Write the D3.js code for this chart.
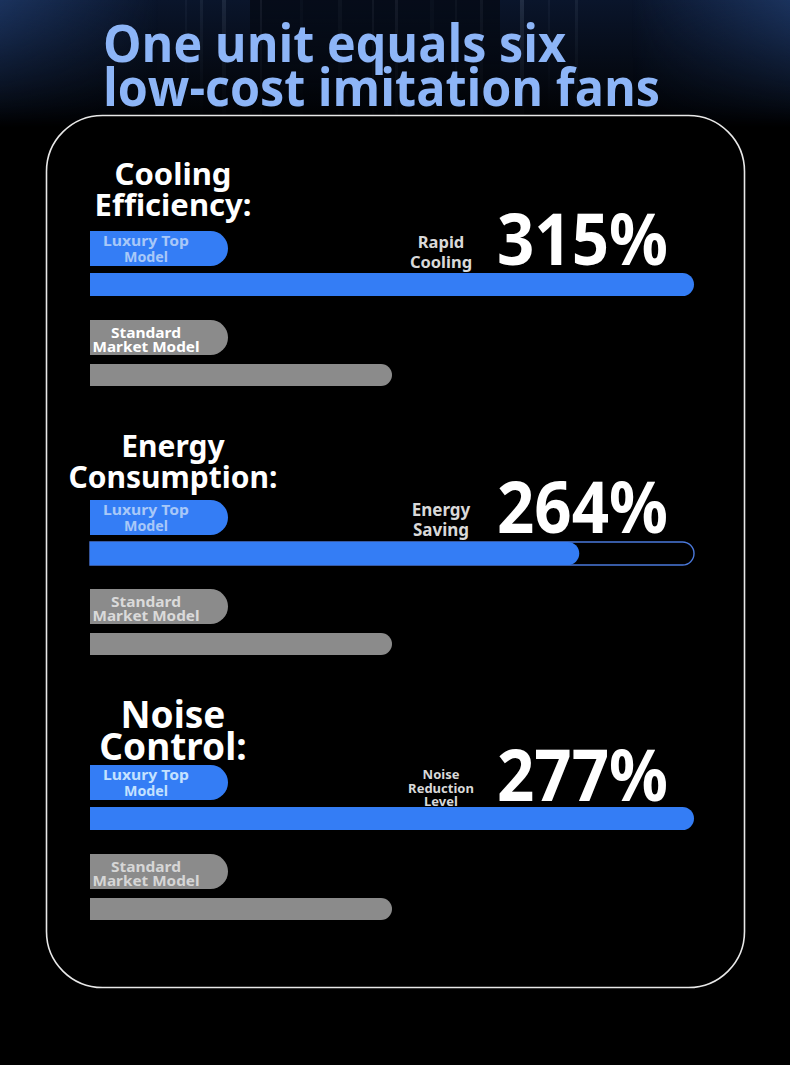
<!DOCTYPE html>
<html>
<head>
<meta charset="utf-8">
<script src="https://cdn.jsdelivr.net/npm/d3@7"></script>
<style>
html,body{margin:0;padding:0;background:#000;}
svg{display:block;}
</style>
</head>
<body>
<div id="chart"></div>
<script>
// ---- data ----
const titleLines = ["One unit equals six", "low-cost imitation fans"];
const categories = [["Cooling", "Efficiency:"], ["Energy", "Consumption:"], ["Noise", "Control:"]];
const percentLabels = ["315%", "264%", "277%"];
const percentValues = [315, 264, 277];
const benefitLabels = [["Rapid", "Cooling"], ["Energy", "Saving"], ["Noise", "Reduction", "Level"]];
const seriesNames = [["Luxury Top", "Model"], ["Standard", "Market Model"]];
const luxuryLevel = [1.0, 0.81, 1.0];     // displayed fill of luxury bar (share of track)
const luxuryTrack = [1.0, 1.0, 1.0];
const standardLevel = [0.5, 0.5, 0.5];   // displayed fill of standard bar

// ---- layout ----
const W = 790, H = 1065;
const svg = d3.select("#chart").append("svg").attr("width", W).attr("height", H);
const defs = svg.append("defs");

const bg = defs.append("linearGradient").attr("id", "bg").attr("x1", 0).attr("y1", 0).attr("x2", 0).attr("y2", 1);
bg.append("stop").attr("offset", "0").attr("stop-color", "#0a152b");
bg.append("stop").attr("offset", "0.55").attr("stop-color", "#050a14");
bg.append("stop").attr("offset", "1").attr("stop-color", "#000");
const side = defs.append("linearGradient").attr("id", "side").attr("x1", 0).attr("y1", 0).attr("x2", 1).attr("y2", 0);
side.append("stop").attr("offset", "0").attr("stop-color", "#1e3866").attr("stop-opacity", 0.85);
side.append("stop").attr("offset", "0.2").attr("stop-color", "#1e3866").attr("stop-opacity", 0);
side.append("stop").attr("offset", "0.8").attr("stop-color", "#1e3866").attr("stop-opacity", 0);
side.append("stop").attr("offset", "1").attr("stop-color", "#1e3866").attr("stop-opacity", 0.85);
const fade = defs.append("linearGradient").attr("id", "fade").attr("x1", 0).attr("y1", 0).attr("x2", 0).attr("y2", 1);
fade.append("stop").attr("offset", "0").attr("stop-color", "#fff").attr("stop-opacity", 1);
fade.append("stop").attr("offset", "0.45").attr("stop-color", "#fff").attr("stop-opacity", 0.5);
fade.append("stop").attr("offset", "1").attr("stop-color", "#fff").attr("stop-opacity", 0);
defs.append("mask").attr("id", "fadeMask").append("rect").attr("x", 0).attr("y", 0).attr("width", W).attr("height", 128).attr("fill", "url(#fade)");

svg.append("rect").attr("width", W).attr("height", H).attr("fill", "#000");
svg.append("rect").attr("width", W).attr("height", 128).attr("fill", "url(#bg)");
const topg = svg.append("g").attr("mask", "url(#fadeMask)");
topg.append("rect").attr("width", W).attr("height", 128).attr("fill", "url(#side)");
// faint vertical streaks (background texture)
const streakX = [185, 200, 222, 260, 300, 338, 372, 395, 430, 455, 480, 520, 548, 575];
topg.selectAll("rect.streak").data(streakX).join("rect")
  .attr("class", "streak")
  .attr("x", d => d).attr("y", 0).attr("width", (d, i) => 2 + (i % 3)).attr("height", 115)
  .attr("fill", "#9aa9c4").attr("opacity", (d, i) => 0.06 + (i % 4) * 0.035);
topg.append("rect").attr("x", 250).attr("y", 0).attr("width", 250).attr("height", 128).attr("fill", "#000").attr("opacity", 0.4);

// title
svg.selectAll("text.title").data(titleLines).join("text")
  .attr("class", "title")
  .attr("x", 103).attr("y", (d, i) => 62 + i * 44)
  .attr("font-family", "'Open Sans', 'Noto Sans', sans-serif")
  .attr("font-weight", 700).attr("font-size", 52)
  .attr("fill", "#8db5f7")
  .attr("textLength", (d, i) => [463, 557][i]).attr("lengthAdjust", "spacingAndGlyphs")
  .text(d => d);

// card
svg.append("rect").attr("x", 46.5).attr("y", 115.5).attr("width", 698).attr("height", 872)
  .attr("rx", 56).attr("ry", 56).attr("fill", "#000").attr("stroke", "#e8e8e8").attr("stroke-width", 1.6);

// scales
const x = d3.scaleLinear().domain([0, 1]).range([90, 694]);
const sectionTop = [231, 500, 765];

function barPath(x0, x1, y0, h) {
  const r = h / 2;
  const p = d3.path();
  p.moveTo(x0, y0);
  p.lineTo(x1 - r, y0);
  p.arc(x1 - r, y0 + r, r, -Math.PI / 2, Math.PI / 2);
  p.lineTo(x0, y0 + h);
  p.closePath();
  return p.toString();
}

const BLUE = "#347df5";
const GRAY = "#8b8b8b";
const font = "'Noto Sans', 'Open Sans', sans-serif";

const sections = svg.selectAll("g.section").data(categories.map((c, i) => ({
  cat: c, pct: percentLabels[i], val: percentValues[i], ben: benefitLabels[i],
  lux: luxuryLevel[i], track: luxuryTrack[i], std: standardLevel[i], i
}))).join("g").attr("class", "section")
  .attr("transform", d => `translate(0,${sectionTop[d.i]})`);

// category headings
const headSize = [31, 30, 37];
const headOff = [[-46, -15], [-43, -12], [-37, -5]];
sections.each(function (d) {
  const g = d3.select(this);
  g.selectAll("text.head").data(d.cat).join("text")
    .attr("class", "head")
    .attr("x", 173).attr("y", (t, j) => headOff[d.i][j])
    .attr("text-anchor", "middle")
    .attr("font-family", font).attr("font-weight", 700)
    .attr("font-size", headSize[d.i]).attr("fill", "#fff")
    .text(t => t);
});

// series pills
const pillColor = [BLUE, GRAY];
const pillText = [["#a8c8f8", "#a8c8f8", "#c4e2ff"], ["#ffffff", "#dadada", "#d6d6d6"]];
const pillTop = [0, 89];
const pillLine = [[15, 31], [18, 32]];
sections.each(function (d) {
  const g = d3.select(this);
  seriesNames.forEach((nm, s) => {
    g.append("path").attr("d", barPath(90, 228, pillTop[s], 35)).attr("fill", pillColor[s]);
    g.selectAll(null).data(nm).join("text")
      .attr("x", 146).attr("y", (t, j) => pillTop[s] + pillLine[s][j])
      .attr("text-anchor", "middle")
      .attr("font-family", font).attr("font-weight", 700).attr("font-size", 14)
      .attr("fill", pillText[s][d.i])
      .attr("textLength", t => ({"Luxury Top": 86, "Model": 44, "Standard": 70, "Market Model": 107})[t])
      .attr("lengthAdjust", "spacingAndGlyphs")
      .text(t => t);
  });
});

// luxury track (outline) and bars
sections.filter(d => d.lux < d.track)
  .append("path").attr("d", d => barPath(x(0), x(d.track), 42, 23))
  .attr("fill", "none").attr("stroke", "#4a78da").attr("stroke-width", 1.4);
sections.append("path").attr("class", "lux")
  .attr("d", d => barPath(x(0), x(d.lux), 42, 23)).attr("fill", BLUE);
sections.append("path").attr("class", "std")
  .attr("d", d => barPath(x(0), x(d.std), 133, 22)).attr("fill", GRAY);

// benefit labels
const benSize = [16.5, 17, 13];
sections.each(function (d) {
  const g = d3.select(this);
  const n = d.ben.length;
  const lh = n === 3 ? 13.5 : 20;
  const last = [37, 36, 41][d.i];
  g.selectAll("text.ben").data(d.ben).join("text")
    .attr("class", "ben")
    .attr("x", 441).attr("y", (t, j) => last - (n - 1 - j) * lh)
    .attr("text-anchor", "middle")
    .attr("font-family", font).attr("font-weight", 700)
    .attr("font-size", benSize[d.i]).attr("fill", "#d9d9d9")
    .text(t => t);
});

// percentages
sections.append("text")
  .attr("x", 497).attr("y", d => [34, 33, 36][d.i])
  .attr("font-family", font).attr("font-weight", 700).attr("font-size", 72)
  .attr("fill", "#fff")
  .attr("textLength", 171).attr("lengthAdjust", "spacingAndGlyphs")
  .text(d => d.pct);
</script>
</body>
</html>
